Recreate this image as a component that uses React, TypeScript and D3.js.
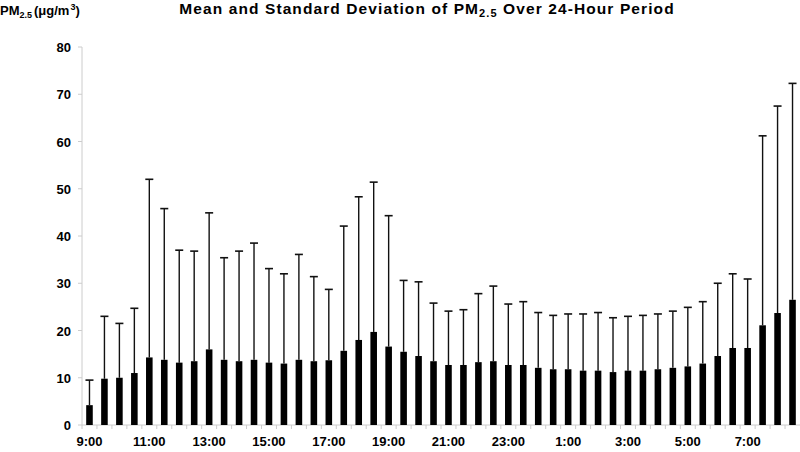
import React from "react";
import * as d3 from "d3";

const times: string[] = [];
const hours = [9,10,11,12,13,14,15,16,17,18,19,20,21,22,23,0,1,2,3,4,5,6,7,8];
hours.forEach(h => { times.push(`${h}:00`); times.push(`${h}:30`); });

const means = [4.2, 9.8, 10.0, 11.0, 14.3, 13.8, 13.2, 13.5, 16.0, 13.8, 13.5, 13.8, 13.2, 13.0, 13.8, 13.5,
  13.7, 15.7, 18.0, 19.7, 16.6, 15.5, 14.6, 13.5, 12.7, 12.7, 13.3, 13.5, 12.7, 12.7, 12.1, 11.8,
  11.8, 11.5, 11.5, 11.2, 11.5, 11.5, 11.8, 12.1, 12.4, 13.0, 14.6, 16.3, 16.3, 21.1, 23.7, 26.5];
const upper = [9.5, 23.0, 21.5, 24.7, 52.0, 45.8, 37.0, 36.8, 44.9, 35.4, 36.8, 38.5, 33.1, 32.0, 36.1, 31.4,
  28.7, 42.1, 48.3, 51.4, 44.3, 30.6, 30.3, 25.8, 24.1, 24.4, 27.8, 29.4, 25.6, 26.1, 23.8, 23.2,
  23.5, 23.5, 23.8, 22.7, 23.0, 23.2, 23.5, 24.1, 24.9, 26.1, 30.0, 32.0, 30.9, 61.2, 67.5, 72.3];
const yTicks = [0, 10, 20, 30, 40, 50, 60, 70, 80];
const xLabelEvery = 4;

export default function App() {
  const W = 800, H = 452;
  const left = 82, right = 800, top = 47, bottom = 425;
  const x = d3.scaleBand<string>().domain(times).range([left, right]).paddingInner(0.56).paddingOuter(0.28);
  const y = d3.scaleLinear().domain([0, 80]).range([bottom, top]);
  const step = x.step();
  const font = "'Liberation Sans', Arial, sans-serif";
  return (
    <svg width={W} height={H} style={{ position: "absolute", left: 0, top: 0, background: "#fff" }} fontFamily={font}>
      <text x={0} y={15} fontSize={13} fontWeight="bold">
        PM<tspan fontSize={9} dy={3}>2.5</tspan><tspan dy={-3} dx={2}>(μg/m</tspan><tspan fontSize={9} dy={-5} dx={1}>3</tspan><tspan dy={5}>)</tspan>
      </text>
      <text x={427} y={14} fontSize={15.5} fontWeight="bold" textAnchor="middle" letterSpacing={1.1}>
        Mean and Standard Deviation of PM<tspan fontSize={11} dy={3}>2.5</tspan><tspan dy={-3}> Over 24-Hour Period</tspan>
      </text>
      <line x1={left} x2={left} y1={top} y2={bottom} stroke="#ccc" strokeWidth={1} />
      {yTicks.map(t => (
        <g key={t}>
          <line x1={left - 4} x2={left} y1={y(t)} y2={y(t)} stroke="#ccc" />
          <text x={71} y={y(t) + 5} fontSize={13} fontWeight="bold" textAnchor="end">{t}</text>
        </g>
      ))}
      <line x1={left} x2={right} y1={bottom} y2={bottom} stroke="#ccc" strokeWidth={1} />
      {times.map((t, i) => (
        <line key={"tk" + i} x1={left + i * step} x2={left + i * step} y1={bottom} y2={bottom + 4} stroke="#ccc" />
      ))}
      {times.map((t, i) => {
        const cx = x(t)! + x.bandwidth() / 2;
        return (
          <g key={t}>
            <line x1={cx} x2={cx} y1={y(means[i])} y2={y(upper[i])} stroke="#111" strokeWidth={1.4} />
            <line x1={cx - 4} x2={cx + 4} y1={y(upper[i])} y2={y(upper[i])} stroke="#111" strokeWidth={1.6} />
            <rect x={x(t)} y={y(means[i])} width={x.bandwidth()} height={bottom - y(means[i])} fill="#000" />
          </g>
        );
      })}
      {times.map((t, i) => i % xLabelEvery === 0 ? (
        <text key={"xl" + i} x={x(t)! + x.bandwidth() / 2} y={446} fontSize={13} fontWeight="bold" textAnchor="middle">{t}</text>
      ) : null)}
    </svg>
  );
}
